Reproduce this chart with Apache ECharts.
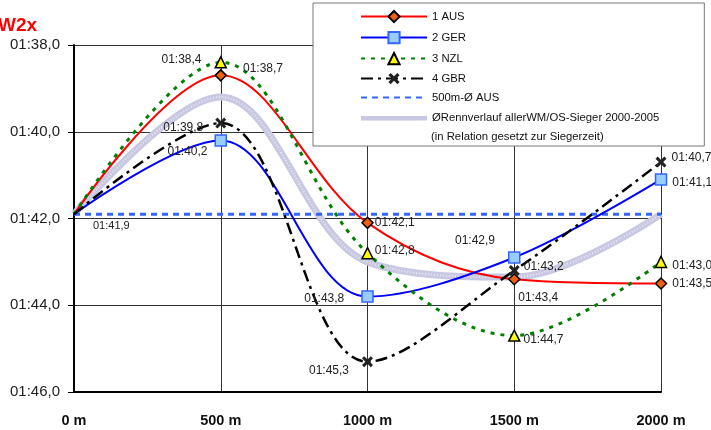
<!DOCTYPE html>
<html>
<head>
<meta charset="utf-8">
<script src="https://cdn.jsdelivr.net/npm/echarts@6/dist/echarts.min.js"></script>
<style>html,body{margin:0;padding:0;background:#fff}#c{width:711px;height:430px}</style>
</head>
<body>
<div id="c"></div>
<script>
const categories = ['0 m', '500 m', '1000 m', '1500 m', '2000 m'];
// values in seconds (01:38,0 = 98.0)
const aus = [101.9, 98.7, 102.1, 103.4, 103.5];
const ger = [101.9, 100.2, 103.8, 102.9, 101.1];
const nzl = [101.9, 98.4, 102.8, 104.7, 103.0];
const gbr = [101.9, 99.8, 105.3, 103.2, 100.7];
const avg500Aus = [101.9, 101.9, 101.9, 101.9, 101.9];
const courseAvg = [101.9, 99.2, 103.0, 103.35, 101.9];
const yTicks = [98, 100, 102, 104, 106];
const seriesNames = ['1 AUS', '2 GER', '3 NZL', '4 GBR', '500m-Ø AUS', 'ØRennverlauf allerWM/OS-Sieger 2000-2005'];
const noteText = '(in Relation gesetzt zur Siegerzeit)';

function fmt(v) {
  const m = Math.floor(v / 60);
  const s = (v - m * 60).toFixed(1).padStart(4, '0').replace('.', ',');
  return String(m).padStart(2, '0') + ':' + s;
}

// label placement per point: [position, offset] or null (no marker, no label)
const labAus = [null, ['right', [11, -7]], ['right', [-4, 0]], ['bottom', [24, 1]], ['right', [0, 0]]];
const labGer = [null, ['left', [-2, 11]], ['left', [-12, 2]], ['left', [-8, -17]], ['right', [0, 3]]];
const labNzl = [null, ['left', [-8, -3]], ['right', [-4, -3]], ['right', [-2, 4]], ['right', [0, 4]]];
const labGbr = [null, ['left', [-7, 5]], ['left', [-8, 9]], ['right', [-1, -4]], ['right', [0, -4]]];

function build(vals, labs) {
  return vals.map((v, i) => {
    const l = labs[i];
    if (!l) return { value: v, symbol: 'none', label: { show: false } };
    return { value: v, label: { show: true, position: l[0], offset: l[1] } };
  });
}

const SM = 0.35;
const labelBase = { fontFamily: 'Arial, Liberation Sans', fontSize: 12, color: '#222', formatter: p => fmt(p.value) };
const xSym = 'path://M2,0L5,3L8,0L10,2L7,5L10,8L8,10L5,7L2,10L0,8L3,5L0,2Z';
const barIcon = 'path://M0,0M66,14M0,5L66,5L66,9.5L0,9.5Z';

const chart = echarts.init(document.getElementById('c'), null, { renderer: 'canvas' });
chart.setOption({
  animation: false,
  backgroundColor: '#fff',
  grid: { left: 74, right: 50, top: 45, bottom: 38 },
  xAxis: {
    type: 'category', data: categories, boundaryGap: false,
    axisLine: { lineStyle: { color: '#000', width: 2 } },
    axisTick: { show: false },
    axisLabel: { margin: 21, fontFamily: 'Arial, Liberation Sans', fontSize: 14.5, fontWeight: 'bold', color: '#111' },
    splitLine: { show: true, lineStyle: { color: '#333', width: 1 } }
  },
  yAxis: {
    type: 'value', inverse: true, min: yTicks[0], max: yTicks[yTicks.length - 1], interval: 2,
    axisLine: { show: true, lineStyle: { color: '#000', width: 2 } },
    axisTick: { show: true, length: 6, lineStyle: { color: '#000' } },
    axisLabel: { margin: 14, fontFamily: 'Arial, Liberation Sans', fontSize: 15, color: '#222', formatter: v => fmt(v) },
    splitLine: { show: true, lineStyle: { color: '#333', width: 1 } }
  },
  legend: {
    data: seriesNames.map((n, i) => i === 5 ? { name: n, icon: barIcon } : { name: n }),
    orient: 'vertical', left: 313, top: 3,
    padding: [7, 45, 21, 47],
    itemWidth: 66, itemHeight: 14, itemGap: 7.8,
    backgroundColor: '#fff', borderColor: '#777', borderWidth: 1,
    textStyle: { fontFamily: 'Arial, Liberation Sans', fontSize: 11.3, color: '#111' },
    selectedMode: false
  },
  graphic: [
    { type: 'text', left: -2, top: 16, style: { text: 'W2x', fill: '#ff0000', font: 'bold 19px Arial, Liberation Sans' } },
    { type: 'text', left: 431, top: 131, z: 200, style: { text: noteText, fill: '#111', font: '11.3px Arial, Liberation Sans' } }
  ],
  series: [
    {
      name: seriesNames[0], type: 'line', smooth: SM, data: build(aus, labAus), z: 5,
      symbol: 'diamond', symbolSize: 11,
      lineStyle: { color: '#ff0000', width: 2 },
      itemStyle: { color: '#f06010', borderColor: '#000', borderWidth: 1.5 },
      label: labelBase
    },
    {
      name: seriesNames[1], type: 'line', smooth: SM, data: build(ger, labGer), z: 5,
      symbol: 'rect', symbolSize: 11,
      lineStyle: { color: '#0000ff', width: 2 },
      itemStyle: { color: '#99ccff', borderColor: '#3366ff', borderWidth: 1.5 },
      label: labelBase
    },
    {
      name: seriesNames[2], type: 'line', smooth: SM, data: build(nzl, labNzl), z: 5,
      symbol: 'triangle', symbolSize: 11,
      lineStyle: { color: '#008000', width: 3, type: [4, 6] },
      itemStyle: { color: '#ffff00', borderColor: '#000', borderWidth: 1.5 },
      label: labelBase
    },
    {
      name: seriesNames[3], type: 'line', smooth: SM, data: build(gbr, labGbr), z: 5,
      symbol: xSym, symbolSize: 11,
      lineStyle: { color: '#000', width: 2.5, type: [12, 5, 3, 5] },
      itemStyle: { color: '#222', borderColor: '#222', borderWidth: 0 },
      label: labelBase
    },
    {
      name: seriesNames[4], type: 'line', z: 4,
      data: avg500Aus.map((v, i) => i === 0
        ? { value: v, symbol: 'circle', symbolSize: 2, label: { show: true, position: 'right', offset: [13, 12], fontSize: 11 } }
        : { value: v }),
      symbol: 'none',
      lineStyle: { color: '#3366ff', width: 3, type: [6, 5] },
      itemStyle: { color: 'rgba(0,0,0,0)' },
      label: labelBase
    },
    {
      name: seriesNames[5], type: 'line', smooth: SM, data: courseAvg, z: 2,
      symbol: 'none',
      lineStyle: { color: '#c8c8e2', width: 7 },
      itemStyle: { color: '#c8c8e2' }
    },
    {
      name: 'pattern', type: 'line', smooth: SM, data: courseAvg, z: 3, silent: true,
      symbol: 'none',
      lineStyle: { color: 'rgba(255,255,255,0.6)', width: 2, type: [1, 2] }
    }
  ]
});
</script>
</body>
</html>
